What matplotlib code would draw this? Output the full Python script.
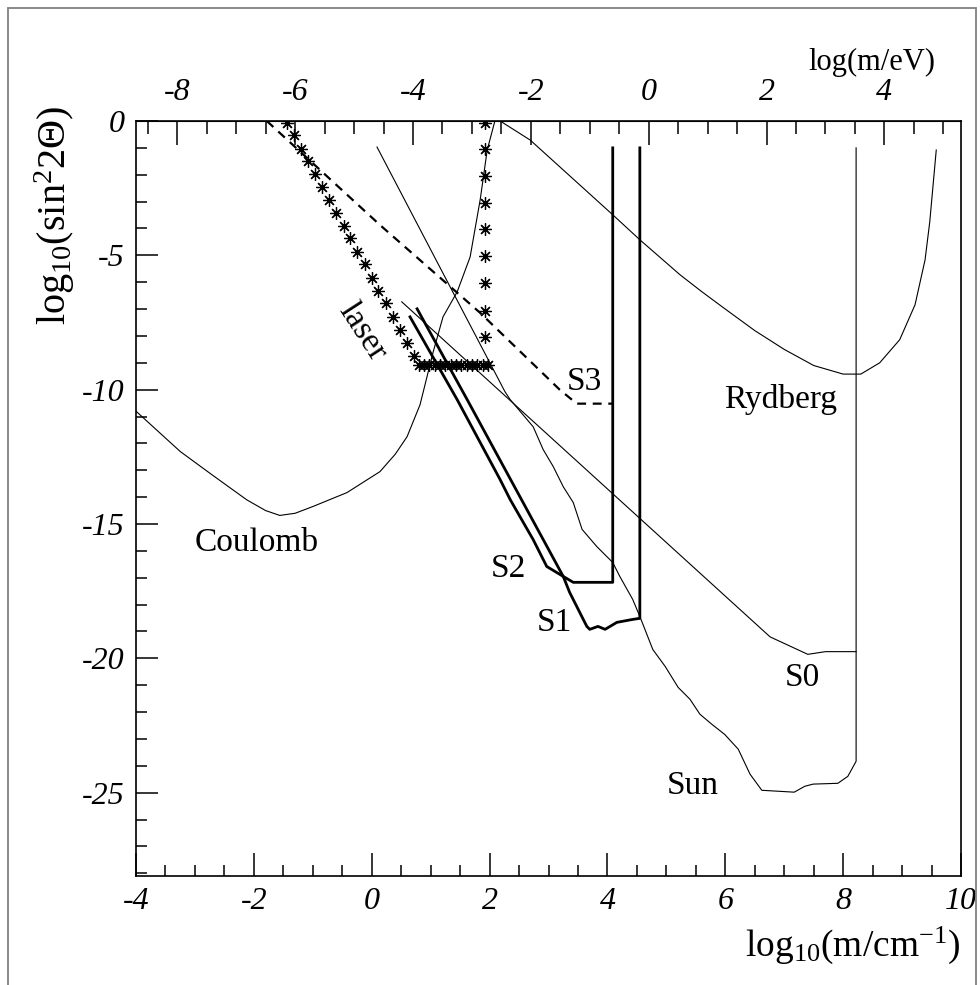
import matplotlib
matplotlib.use('Agg')
import matplotlib.pyplot as plt
from matplotlib.patches import Rectangle

plt.rcParams['font.family'] = ['Liberation Serif', 'DejaVu Serif']
plt.rcParams['mathtext.fontset'] = 'custom'
plt.rcParams['mathtext.rm'] = 'Liberation Serif'
plt.rcParams['mathtext.it'] = 'Liberation Serif:italic'

# x: log10(m/cm^-1), y: log10(sin^2 2Theta)
coulomb_x = [-4.0, -3.6, -3.25, -2.69, -2.12, -1.8, -1.56, -1.3, -1.0, -0.42, 0.14, 0.4, 0.6,
             0.82, 1.04, 1.21, 1.45, 1.67, 1.84, 1.96, 2.09]
coulomb_y = [-10.8, -11.6, -12.3, -13.2, -14.1, -14.5, -14.68, -14.6, -14.35, -13.83, -13.05,
             -12.4, -11.75, -10.56, -8.62, -7.29, -6.36, -5.06, -2.94, -1.08, 0.0]

rydberg_x = [2.18, 2.69, 4.09, 4.55, 5.23, 5.6, 6.0, 6.5, 7.0, 7.5, 8.0, 8.3, 8.62, 8.96, 9.22,
             9.39, 9.47, 9.58]
rydberg_y = [0.0, -0.71, -3.49, -4.42, -5.72, -6.35, -7.0, -7.8, -8.5, -9.1, -9.42, -9.42, -9.0,
             -8.14, -6.84, -5.17, -3.75, -1.08]

sun_x = [0.09, 2.26, 2.35, 2.74, 2.91, 3.08, 3.25, 3.42, 3.57, 3.82, 4.09, 4.21, 4.43, 4.55, 4.77,
         4.98, 5.20, 5.40, 5.57, 5.77, 5.99, 6.22, 6.42, 6.62, 7.17, 7.35, 7.49, 7.91, 8.08, 8.22, 8.22]
sun_y = [-0.97, -10.07, -10.37, -11.38, -12.23, -12.86, -13.61, -14.20, -15.20, -15.84, -16.43,
         -16.95, -17.81, -18.44, -19.67, -20.30, -21.08, -21.52, -22.08, -22.45, -22.83, -23.38,
         -24.31, -24.91, -24.98, -24.76, -24.68, -24.65, -24.39, -23.83, -1.0]

s0_x = [0.51, 6.76, 7.40, 7.70, 8.22]
s0_y = [-6.73, -19.2, -19.85, -19.75, -19.75]

s1_x = [0.77, 1.62, 3.25, 3.36, 3.65, 3.70, 3.84, 3.96, 4.16, 4.43, 4.55, 4.55]
s1_y = [-6.99, -10.37, -16.95, -17.55, -18.81, -18.92, -18.81, -18.92, -18.66, -18.55, -18.51, -1.0]

s2_x = [0.65, 1.45, 2.18, 2.35, 2.64, 2.74, 2.97, 3.25, 3.42, 4.09, 4.09]
s2_y = [-7.29, -10.37, -13.35, -14.09, -15.2, -15.58, -16.58, -16.95, -17.17, -17.17, -1.0]

s3_x = [-1.78, 0.14, 1.84, 3.19, 3.48, 4.08]
s3_y = [0.0, -3.87, -7.14, -10.0, -10.52, -10.52]

laser_x = [-1.44, -1.32, -1.20, -1.08, -0.96, -0.84, -0.72, -0.61, -0.47, -0.37, -0.25, -0.11,
           0.00, 0.11, 0.24, 0.36, 0.48, 0.60, 0.72,
           0.80, 0.89, 0.98, 1.07, 1.16, 1.25, 1.34, 1.43, 1.52, 1.61, 1.70, 1.79, 1.88, 1.97,
           1.92, 1.92, 1.92, 1.92, 1.92, 1.92, 1.92, 1.92, 1.92]
laser_y = [-0.07, -0.52, -1.04, -1.49, -1.97, -2.45, -2.94, -3.42, -3.90, -4.35, -4.87, -5.32,
           -5.84, -6.32, -6.77, -7.29, -7.77, -8.25, -8.74,
           -9.07, -9.07, -9.07, -9.07, -9.07, -9.07, -9.07, -9.07, -9.07, -9.07, -9.07, -9.07,
           -9.07, -9.07,
           -8.03, -7.06, -6.02, -5.02, -4.01, -3.05, -2.04, -1.04, -0.07]

labels = ['Coulomb', 'Rydberg', 'Sun', 'S0', 'S1', 'S2', 'S3']
label_x = [-3.0, 5.98, 5.01, 7.01, 2.80, 2.02, 3.31]
label_y = [-16.02, -10.67, -25.05, -21.04, -19.0, -16.99, -10.0]

offset_ev = 4.70  # log(m/eV) = log10(m/cm^-1) - offset

fig = plt.figure(figsize=(9.8, 9.85), dpi=100)
# rahmen um die ganze seite
fig.patches.append(Rectangle((8 / 980, -0.01), 968 / 980, 1 - 8 / 985 + 0.01,
                             transform=fig.transFigure, fill=False,
                             edgecolor='#808080', linewidth=1.3))
ax = fig.add_axes([136 / 980, 1 - 876 / 985, 825 / 980, 755 / 985])

thin = dict(color='black', linewidth=0.8)
ax.plot(coulomb_x, coulomb_y, **thin)
ax.plot(rydberg_x, rydberg_y, **thin)
ax.plot(sun_x, sun_y, **thin)
ax.plot(s0_x, s0_y, **thin)
ax.plot(s1_x, s1_y, color='black', linewidth=2.0)
ax.plot(s2_x, s2_y, color='black', linewidth=2.0)
ax.plot(s3_x, s3_y, color='black', linewidth=1.6, linestyle=(0, (4, 3)))
ax.plot(laser_x, laser_y, linestyle='none', marker=(8, 2, 0), markersize=9,
        markeredgewidth=0.9, color='black')

for t, x, y in zip(labels, label_x, label_y):
    ax.text(x, y, t, fontsize=24, ha='left', va='baseline')
ax.text(-0.15, -7.84, 'laser', fontsize=24, rotation=-57, ha='center', va='center',
        rotation_mode='anchor')

ax.set_xlim(-4, 10)
ax.set_ylim(-28.1, 0)
ax.set_xticks(range(-4, 11, 2))
ax.set_xticks([v / 2 for v in range(-8, 21)], minor=True)
ax.set_yticks(range(-25, 1, 5))
ax.set_yticks(range(-28, 1), minor=True)
ax.set_xticklabels([str(v) for v in range(-4, 11, 2)])
ax.set_yticklabels([str(v) for v in range(-25, 1, 5)])
ax.tick_params(which='both', direction='in', top=False, right=False, width=1.1, labelsize=23)
ax.tick_params(axis='x', which='major', length=16.5, pad=8)
ax.tick_params(axis='x', which='minor', length=8)
ax.tick_params(axis='y', which='major', length=16, pad=8)
ax.tick_params(axis='y', which='minor', length=8)
for lab in ax.get_xticklabels() + ax.get_yticklabels():
    lab.set_fontstyle('italic')
for sp in ax.spines.values():
    sp.set_linewidth(1.2)

sec = ax.secondary_xaxis('top', functions=(lambda x: x - offset_ev, lambda x: x + offset_ev))
sec.set_xticks(range(-8, 5, 2))
sec.set_xticks([v / 2 for v in range(-17, 11)], minor=True)
sec.set_xticklabels([str(v) for v in range(-8, 5, 2)])
sec.tick_params(which='both', direction='in', width=1.1, labelsize=23)
sec.tick_params(which='major', length=17, pad=10)
sec.tick_params(which='minor', length=9)
for lab in sec.get_xticklabels():
    lab.set_fontstyle('italic')

fig.text(935 / 980, 1 - 62 / 985, 'log(m/eV)', fontsize=22, ha='right', va='center')
fig.text(960 / 980, 1 - 945 / 985, r'log$_{10}$(m/cm$^{-1}$)', fontsize=27,
         ha='right', va='center')
fig.text(55 / 980, 1 - 215 / 985, r'log$_{10}$(sin$^{2}$2Θ)', fontsize=29, rotation=90,
         ha='center', va='center')

plt.savefig('out.png', dpi=100)
plt.close('all')
